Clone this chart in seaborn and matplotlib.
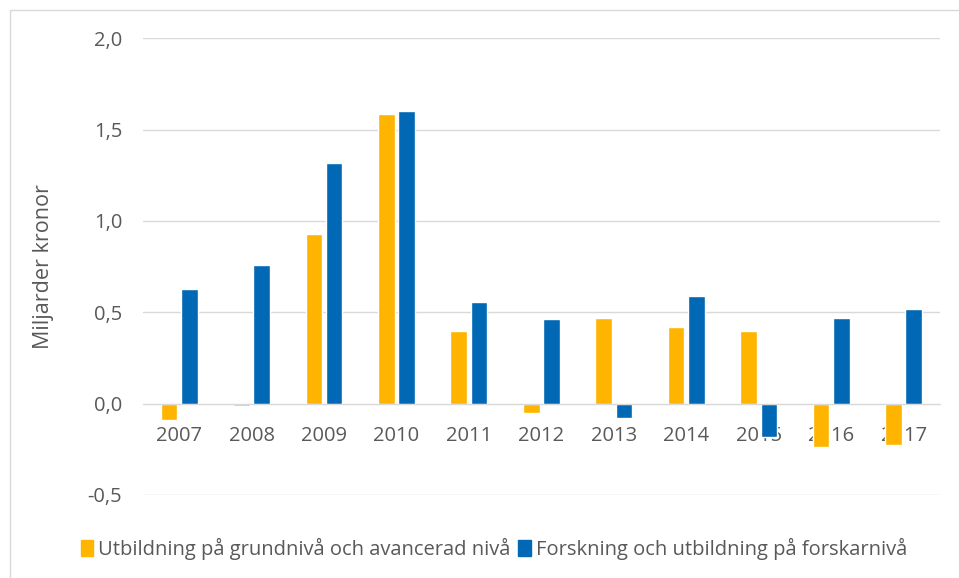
import seaborn as sns
import matplotlib.pyplot as plt
import matplotlib.patches as mpatches
import pandas as pd

years = ["2007", "2008", "2009", "2010", "2011", "2012", "2013", "2014", "2015", "2016", "2017"]
grund = [-0.09, -0.015, 0.93, 1.585, 0.40, -0.05, 0.47, 0.42, 0.40, -0.235, -0.225]
forsk = [0.63, 0.76, 1.315, 1.60, 0.555, 0.465, -0.08, 0.59, -0.18, 0.47, 0.52]
series = ["Utbildning på grundnivå och avancerad nivå", "Forskning och utbildning på forskarnivå"]
yticks = [-0.5, 0.0, 0.5, 1.0, 1.5, 2.0]

df = pd.DataFrame({
    "År": years * 2,
    "Värde": grund + forsk,
    "Serie": [series[0]] * len(years) + [series[1]] * len(years),
})

sns.set_style("white")
plt.rcParams['font.family'] = ['Open Sans', 'DejaVu Sans']
text_col = "#595959"

fig = plt.figure(figsize=(9.59, 5.78), dpi=100)
ax = fig.add_axes([0.149, 0.1436, 0.831, 0.7904])

sns.barplot(data=df, x="År", y="Värde", hue="Serie", palette=["#FFB400", "#0068B5"],
            width=0.56, gap=0.18, ax=ax, legend=False, saturation=1)

ax.set_ylim(-0.5, 2.0)
ax.set_yticks(yticks)
ax.set_yticklabels([f"{v:.1f}".replace(".", ",") for v in yticks], color=text_col, fontsize=14.5)
ax.yaxis.grid(True, color="#D9D9D9", linewidth=1)
ax.set_axisbelow(True)
for s in ["top", "right", "left"]:
    ax.spines[s].set_visible(False)
ax.spines["bottom"].set_position(("data", 0))
ax.spines["bottom"].set_color("#D9D9D9")
ax.tick_params(axis="both", length=0)
ax.tick_params(axis="x", labelsize=14.5, labelcolor=text_col, pad=16)
ax.tick_params(axis="y", pad=15)
ax.set_xlabel("")
ax.set_ylabel("Miljarder kronor", fontsize=15.5, color=text_col, labelpad=24)
ax.set_xlim(-0.5, len(years) - 0.5)

handles = [mpatches.Patch(color=c) for c in ["#FFB400", "#0068B5"]]
fig.legend(handles, series, loc="center", bbox_to_anchor=(0.515, 0.05), ncol=2, frameon=False,
           handlelength=0.6, handleheight=0.8, handletextpad=0.25, columnspacing=0.4,
           fontsize=14.5, labelcolor=text_col)

fig.patches.append(mpatches.Rectangle((10 / 959, -0.05), 1.0, 1 - 10 / 578 + 0.05,
                                      transform=fig.transFigure, fill=False,
                                      edgecolor="#D9D9D9", linewidth=1))

fig.savefig("out.png", dpi=100)
